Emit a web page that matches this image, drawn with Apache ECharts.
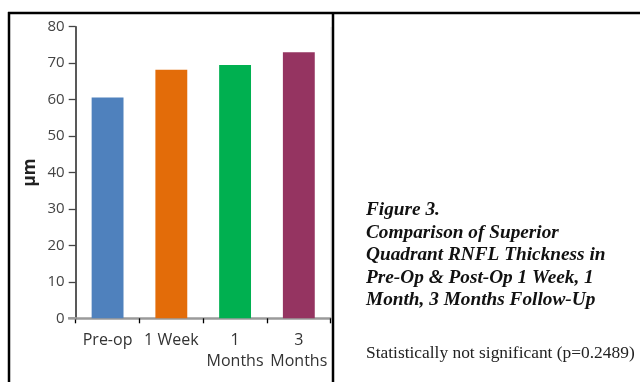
<!DOCTYPE html>
<html><head><meta charset="utf-8">
<script src="https://cdn.jsdelivr.net/npm/echarts@6/dist/echarts.min.js"></script>
<style>html,body{margin:0;padding:0;background:#fff}#c{width:640px;height:382px}</style>
</head><body><div id="c"></div>
<script>
const categories = ['Pre-op', '1 Week', '1\nMonths', '3\nMonths'];
const values = [60.6, 68.2, 69.5, 73.0];
const barColors = ['#4F81BD', '#E36C09', '#00B050', '#953461'];
const yTicks = { min: 0, max: 80, interval: 10 };
const yName = 'µm';
const captionLines = ['Figure 3.', 'Comparison of Superior', 'Quadrant RNFL Thickness in', 'Pre-Op & Post-Op 1 Week, 1', 'Month, 3 Months Follow-Up'];
const noteText = 'Statistically not significant (p=0.2489)';

const chart = echarts.init(document.getElementById('c'));
chart.setOption({
  animation: false,
  grid: { left: 75.7, right: 309.3, top: 26.7, bottom: 63.7, containLabel: false },
  xAxis: {
    type: 'category', data: categories,
    axisLine: { show: true, lineStyle: { color: '#9a9a9a', width: 2.5 } },
    axisTick: { show: true, length: 5, lineStyle: { color: '#000', width: 1.3 } },
    axisLabel: { interval: 0, margin: 12, fontSize: 16, lineHeight: 21, color: '#333', fontFamily: 'Open Sans' }
  },
  yAxis: {
    type: 'value', min: yTicks.min, max: yTicks.max, interval: yTicks.interval,
    name: yName, nameLocation: 'middle', nameGap: 37, nameRotate: 90,
    nameTextStyle: { fontSize: 17, fontWeight: 'bold', color: '#222', fontFamily: 'Open Sans' },
    splitLine: { show: false },
    axisLine: { show: true, lineStyle: { color: '#222', width: 1.5 } },
    axisTick: { show: true, length: 7, lineStyle: { color: '#444', width: 1.3 } },
    axisLabel: { margin: 11, fontSize: 15, color: '#444', fontFamily: 'Open Sans' }
  },
  series: [{
    type: 'bar', barWidth: '50%',
    data: values.map((v, i) => ({ value: v, itemStyle: { color: barColors[i] } }))
  }],
  graphic: [
    { type: 'line', shape: { x1: 331, y1: 27, x2: 331, y2: 318 }, style: { stroke: '#e2e2e2', lineWidth: 1 } },
    { type: 'line', shape: { x1: 68, y1: 318.3, x2: 76, y2: 318.3 }, style: { stroke: '#9a9a9a', lineWidth: 2.5 }, z: 100 },
    { type: 'line', shape: { x1: 8, y1: 13, x2: 640, y2: 13 }, style: { stroke: '#000', lineWidth: 2.5 } },
    { type: 'line', shape: { x1: 9, y1: 12, x2: 9, y2: 382 }, style: { stroke: '#000', lineWidth: 2.5 } },
    { type: 'line', shape: { x1: 333, y1: 12, x2: 333, y2: 382 }, style: { stroke: '#000', lineWidth: 2.5 } },
    { type: 'text', left: 366, top: 199, style: { text: captionLines.join('\n'), font: 'italic bold 19.3px "Liberation Serif"', lineHeight: 22.5, fill: '#111' } },
    { type: 'text', left: 366, top: 345, style: { text: noteText, font: '17.4px "Liberation Serif"', fill: '#222' } }
  ]
});
</script></body></html>
